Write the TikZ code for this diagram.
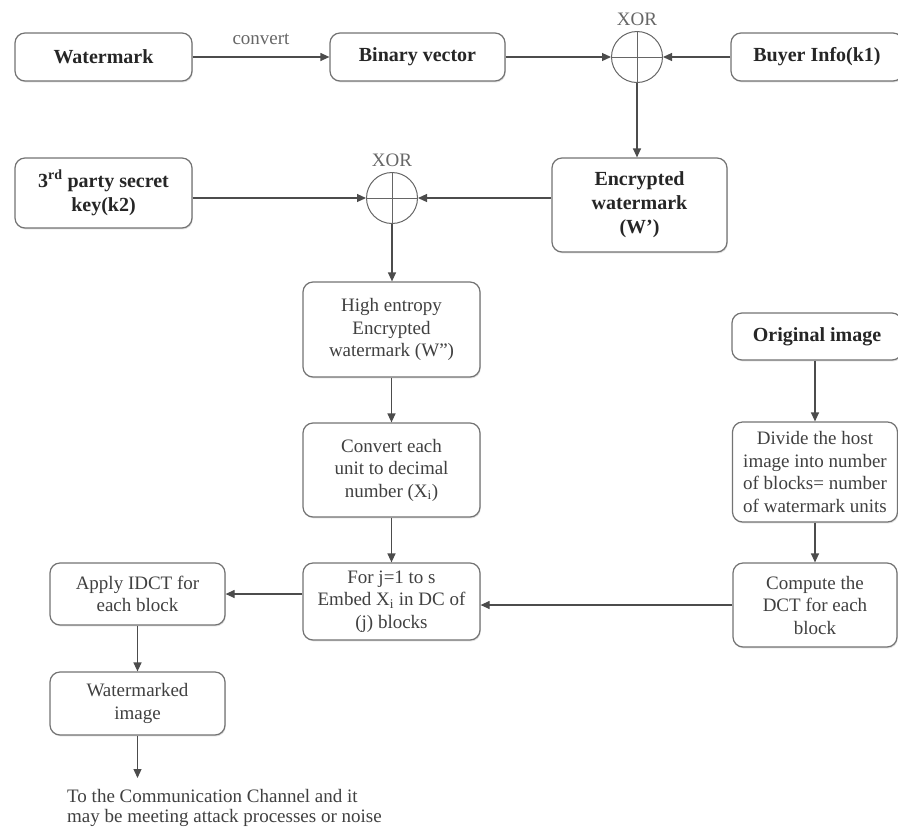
\documentclass[tikz,border=0pt]{standalone}
\usepackage{fontspec}
\setmainfont{Liberation Serif}
\usetikzlibrary{arrows.meta,shadows}
\begin{document}
\begin{tikzpicture}[x=1pt,y=-1pt,
  font=\fontsize{19}{22.5}\selectfont,
  box/.style={draw=black!55, line width=1.2pt, rounded corners=10pt, fill=white,
    align=center, inner sep=0pt, text=black!75,
    drop shadow={opacity=0.25, shadow xshift=0.8pt, shadow yshift=-1.4pt}},
  boldbox/.style={box, font=\fontsize{20}{24}\selectfont\bfseries, text=black!85},
  xorgate/.style={draw=black!60, line width=1pt, circle, minimum size=51pt, inner sep=0pt,
    path picture={\draw[black!60, line width=1pt]
      (path picture bounding box.north) -- (path picture bounding box.south)
      (path picture bounding box.west) -- (path picture bounding box.east);}},
  flow/.style={draw=black!70, line width=1.2pt, -{Triangle[length=9pt,width=8pt]}},
  lbl/.style={text=black!60, inner sep=0pt}]
\useasboundingbox (0,0) rectangle (898,831);

% top row
\node[boldbox, minimum width=177pt, minimum height=48pt] (wm) at (103.5,57) {Watermark};
\node[boldbox, minimum width=175pt, minimum height=48pt] (bin) at (417.5,57) {Binary vector};
\node[xorgate] (xor1) at (637,57) {};
\node[lbl] (xor1l) at (637,19) {XOR};
\node[boldbox, minimum width=172pt, minimum height=48pt] (buyer) at (817,57) {Buyer Info(k1)};

% second row
\node[boldbox, minimum width=177pt, minimum height=70pt] (key) at (103.5,193)
  {3\textsuperscript{rd} party secret\\key(k2)};
\node[xorgate] (xor2) at (392,198) {};
\node[lbl] (xor2l) at (392,160) {XOR};
\node[boldbox, minimum width=175pt, minimum height=94pt] (enc) at (639.5,205)
  {Encrypted\\watermark\\(W')};

% middle column
\node[box, minimum width=177pt, minimum height=95pt] (he) at (391.5,329.5)
  {High entropy\\Encrypted\\watermark (W'')};
\node[box, minimum width=177pt, minimum height=94pt] (conv) at (391.5,470)
  {Convert each\\unit to decimal\\number (X\textsubscript{i})};
\node[box, minimum width=177pt, minimum height=77pt] (forb) at (391.5,601.5)
  {For j=1 to s\\Embed X\textsubscript{i} in DC of\\(j) blocks};

% right column
\node[boldbox, minimum width=170pt, minimum height=47pt] (orig) at (817,336.5) {Original image};
\node[box, minimum width=165pt, minimum height=100pt] (div) at (815,472)
  {Divide the host\\image into number\\of blocks= number\\of watermark units};
\node[box, minimum width=164pt, minimum height=84pt] (comp) at (815,605)
  {Compute the\\DCT for each\\block};

% left column
\node[box, minimum width=175pt, minimum height=62pt] (idct) at (137.5,594)
  {Apply IDCT for\\each block};
\node[box, minimum width=175pt, minimum height=63pt] (wmi) at (137.5,703.5)
  {Watermarked\\image};
\coordinate (out) at (137.5,778);
\node[lbl, text=black!75, align=left, anchor=north west,
  font=\fontsize{19}{20}\selectfont] (chan) at (67,789)
  {To the Communication Channel and it\\may be meeting attack processes or noise};

% connectors
\draw[flow] (wm) -- node[lbl, above=12pt] (cv) {convert} (bin);
\draw[flow] (bin) -- (xor1);
\draw[flow] (buyer) -- (xor1);
\draw[flow] (xor1) -- (xor1 |- enc.north);
\draw[flow] (key.east |- xor2) -- (xor2);
\draw[flow] (enc.west |- xor2) -- (xor2);
\draw[flow] (xor2) -- (xor2 |- he.north);
\draw[flow] (he) -- (conv);
\draw[flow] (conv) -- (forb);
\draw[flow] (orig.south -| div.north) -- (div);
\draw[flow] (div) -- (comp);
\draw[flow] (comp.west) -- (comp.west -| forb.east);
\draw[flow] (forb.west |- idct.east) -- (idct.east);
\draw[flow] (idct) -- (wmi);
\draw[flow] (wmi) -- (out);
\end{tikzpicture}
\end{document}
